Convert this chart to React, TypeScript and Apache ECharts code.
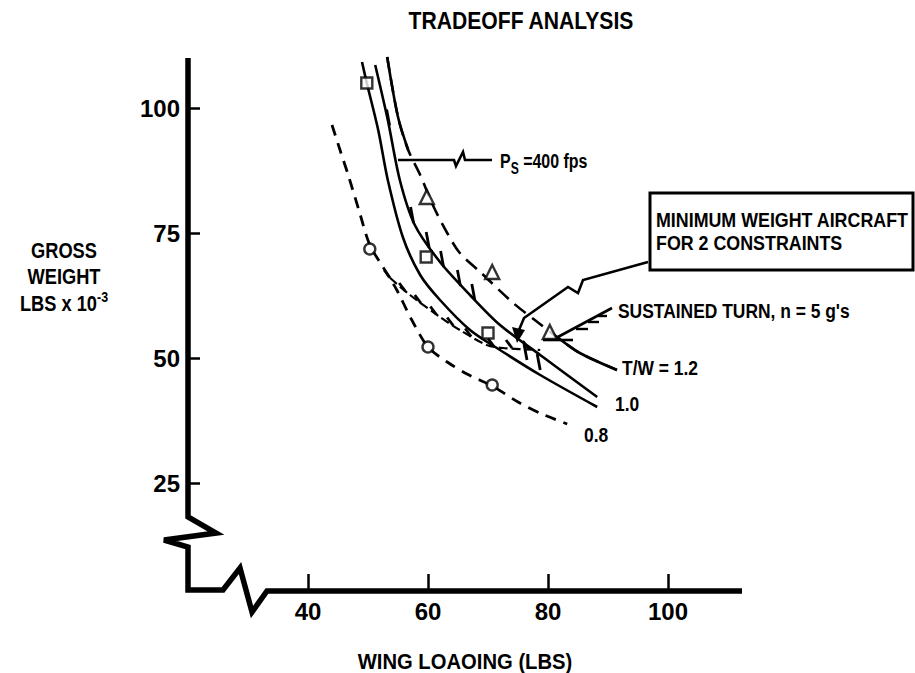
import React, { useEffect, useRef } from "react";
import * as echarts from "echarts";

const FONT = "'Liberation Sans', Arial, sans-serif";
const SQUEEZE = 0.83;

// axis ranges / ticks
const xMin = 20;
const xMax = 112;
const yMin = 3.6;
const yMax = 111;
const yAxisTop = 110;
const xTicks = [40, 60, 80, 100];
const yTicks = [25, 50, 75, 100];

// T/W = 0.8 (dashed, circles)
const tw08 = [
  [44, 96.6], [45.5, 91], [46.7, 86.6], [48.5, 79.5], [50.3, 72.6], [52.5, 68.2], [54.8, 63.6],
  [57.3, 57.6], [60, 52.2], [63.2, 49.2], [66.5, 46.8], [70.7, 44.4], [75, 41.2],
  [79, 38.8], [83.2, 36.8],
];
// T/W = 1.0 (solid)
const tw10 = [
  [49, 109.2], [49.8, 105], [51.7, 95.6], [53.3, 85.6], [55.8, 74.2], [58.7, 66.6],
  [62, 61.6], [67, 55.6], [72, 51.6], [78.7, 46.6], [88.2, 40.2],
];
// Ps = 400 fps constraint (solid, hatched)
const ps400 = [
  [51.2, 108.6], [53.3, 97.6], [55.3, 85.6], [57.8, 76.6], [62, 69.2], [67, 62.6],
  [72, 56.6], [78.7, 50.6], [88.2, 42.2],
];
// T/W = 1.2
const tw12 = [
  [53.2, 110.2], [55, 98.2], [56.7, 91.6], [58.7, 86.6], [60.8, 80.6], [63.2, 75],
  [65.3, 71], [68.7, 67.2], [74.2, 61], [77.8, 57.6], [81.5, 54.2], [85.3, 51], [91.5, 47.6],
];
// Sustained turn n = 5 g's constraint
const turn5g = [
  [53.7, 66], [57, 62.6], [62, 58.2], [65.3, 55.6], [69.8, 52.6], [72.5, 52], [78.7, 51.6],
];
// design point symbols
const circlePts = [[50.3, 71.8], [60, 52.2], [70.7, 44.6]];
const squarePts = [[49.8, 105], [59.7, 70.2], [70, 55]];
const trianglePts = [[59.8, 82.2], [70.7, 67.2], [80.3, 55.2]];
// hatch marks
const psHatch = [[53.6, 96.5], [57.6, 77], [60.2, 72], [62.6, 68.2], [65.4, 64.4], [67.8, 61.6], [76.5, 49.6], [78.7, 47.6]];
const turnHatch = [[53.7, 66], [56.2, 63.4], [58.8, 61], [61.4, 58.7], [64.2, 56.5], [67.2, 54.3], [71, 52.3], [74, 52], [76.8, 51.8]];

const solid = { color: "#000", width: 2.6, type: "solid" as const };

export default function App() {
  const ref = useRef<HTMLDivElement>(null);
  useEffect(() => {
    const el = ref.current;
    if (!el) return;
    const chart = echarts.init(el, null, { renderer: "svg" });
    const hatchRender = (dx: number, dy: number) => (params: any, api: any) => {
      const p = api.coord([api.value(0), api.value(1)]);
      return {
        type: "line",
        shape: { x1: p[0], y1: p[1], x2: p[0] + dx, y2: p[1] + dy },
        style: { stroke: "#000", lineWidth: 2.8 },
      };
    };
    const marker = (name: string, data: number[][], symbol: string, size: number) => ({
      name,
      type: "scatter",
      data,
      symbol,
      symbolSize: size,
      itemStyle: { color: "#fff", borderColor: "#000", borderWidth: 2.4 },
      z: 10,
      silent: true,
    });
    const option: any = {
      animation: false,
      backgroundColor: "#fff",
      grid: { left: 188, top: 53, width: (xMax - xMin) * 6, height: (yMax - yMin) * 5, containLabel: false },
      xAxis: {
        type: "value",
        min: xMin,
        max: xMax,
        axisLine: { show: false },
        splitLine: { show: false },
        axisTick: { show: true, inside: true, length: 16, lineStyle: { color: "#000", width: 2.5 }, customValues: xTicks },
        axisLabel: {
          customValues: xTicks,
          margin: 9,
          color: "#000",
          fontSize: 24,
          fontWeight: "bold",
          fontFamily: FONT,
        },
      },
      yAxis: {
        type: "value",
        min: yMin,
        max: yMax,
        axisLine: { show: false },
        splitLine: { show: false },
        axisTick: { show: true, inside: true, length: 12, lineStyle: { color: "#000", width: 2.5 }, customValues: yTicks },
        axisLabel: {
          customValues: yTicks,
          margin: 8,
          color: "#000",
          fontSize: 24,
          fontWeight: "bold",
          fontFamily: FONT,
        },
      },
      series: [
        {
          name: "T/W = 0.8",
          type: "line",
          data: tw08,
          smooth: 0.3,
          showSymbol: false,
          lineStyle: { color: "#000", width: 2.8, type: [11, 8] },
        },
        { name: "T/W = 1.0", type: "line", data: tw10, smooth: 0.3, showSymbol: false, lineStyle: solid },
        { name: "Ps = 400 fps", type: "line", data: ps400, smooth: 0.3, showSymbol: false, lineStyle: solid },
        {
          name: "T/W = 1.2 (dashed)",
          type: "line",
          data: tw12,
          smooth: 0.3,
          showSymbol: false,
          lineStyle: { color: "#000", width: 2.6, type: [14, 8] },
        },
        { name: "T/W = 1.2 top", type: "line", data: tw12.slice(0, 3), smooth: 0.3, showSymbol: false, lineStyle: solid },
        { name: "T/W = 1.2 end", type: "line", data: tw12.slice(-3), smooth: 0.3, showSymbol: false, lineStyle: solid },
        {
          name: "Sustained turn",
          type: "line",
          data: turn5g,
          smooth: 0.3,
          showSymbol: false,
          lineStyle: { color: "#000", width: 2.2, type: [9, 4] },
        },
        { name: "Ps hatch", type: "custom", data: psHatch, renderItem: hatchRender(-3, -16), silent: true, z: 4 },
        { name: "Turn hatch", type: "custom", data: turnHatch, renderItem: hatchRender(-6, -8), silent: true, z: 4 },
        marker("circles", circlePts, "circle", 11),
        marker("squares", squarePts, "rect", 11),
        marker("triangles", trianglePts, "triangle", 14),
      ],
    };
    chart.setOption(option);

    const o = chart.convertToPixel({ gridIndex: 0 } as any, [xMin, yMin]) as number[];
    const t = chart.convertToPixel({ gridIndex: 0 } as any, [xMin, yAxisTop]) as number[];
    const r = chart.convertToPixel({ gridIndex: 0 } as any, [xMax, yMin]) as number[];
    const ox = o[0];
    const oy = o[1];
    const txt = (text: string, x: number, y: number, size: number, align = "left", extra: any = {}, sx = SQUEEZE) => ({
      type: "text",
      x,
      y,
      scaleX: sx,
      style: {
        text,
        fontSize: size,
        fontWeight: "bold",
        fontFamily: FONT,
        fill: "#000",
        align,
        verticalAlign: "middle",
        ...extra,
      },
      z: 20,
    });
    const pl = (points: number[][], w = 2.3) => ({
      type: "polyline",
      shape: { points },
      style: { stroke: "#000", lineWidth: w, fill: null, lineJoin: "miter" },
      z: 20,
    });
    chart.setOption({
      graphic: [
        // axes with breaks
        pl(
          [
            [ox, t[1]],
            [ox, oy - 73],
            [ox + 28, oy - 57],
            [ox - 24, oy - 50],
            [ox, oy - 43],
            [ox, oy],
            [ox + 35, oy],
            [ox + 52, oy - 22],
            [ox + 64, oy + 22],
            [ox + 79, oy + 1],
            [r[0] + 2, oy + 1],
          ],
          5.5
        ),
        txt("TRADEOFF ANALYSIS", 521, 21, 24, "center", {}, 0.88),
        txt("GROSS", 64, 250, 22, "center"),
        txt("WEIGHT", 64, 276, 22, "center"),
        txt("LBS x 10{sup|-3}", 64, 303, 22, "center", {
          rich: { sup: { fontSize: 15, fontWeight: "bold", fontFamily: FONT, padding: [0, 0, 12, 0] } },
        }),
        txt("WING LOAOING (LBS)", 465, 661, 22, "center", {}, 0.92),
        // Ps label & leader
        txt("P{s|S} =400 fps", 500, 161, 21, "left", {
          rich: { s: { fontSize: 16, fontWeight: "bold", fontFamily: FONT, padding: [14, 0, 0, 0] } },
        }, 0.76),
        pl([[492, 160], [465, 160], [463, 152], [456, 166], [454, 160], [398, 160]], 2.6),
        // Minimum weight box
        {
          type: "rect",
          shape: { x: 650, y: 193, width: 263, height: 77 },
          style: { stroke: "#000", lineWidth: 3, fill: null },
          z: 20,
        },
        txt("MINIMUM WEIGHT AIRCRAFT", 656, 219, 21, "left", {}, 0.85),
        txt("FOR 2 CONSTRAINTS", 656, 242, 21, "left", {}, 0.85),
        pl([[648, 262], [583, 280], [578, 293], [568, 287], [524, 318], [519, 330]], 2.6),
        {
          type: "polygon",
          shape: { points: [[512, 327], [525, 330], [517, 343]] },
          style: { fill: "#000" },
          z: 20,
        },
        // Sustained turn label & leader
        txt("SUSTAINED TURN, n = 5 g's", 618, 311, 21),
        pl([[612, 308], [556, 338]], 2.6),
        pl([[543, 340], [573, 340]], 2.6),
        pl([[576, 329], [588, 329]], 2.4),
        pl([[588, 322], [599, 322]], 2.4),
        pl([[598, 316], [607, 316]], 2.4),
        // curve labels
        txt("T/W = 1.2", 622, 368, 21),
        txt("1.0", 615, 404, 21),
        txt("0.8", 584, 435, 21),
      ],
    });
    return () => chart.dispose();
  }, []);
  return (
    <div
      ref={ref}
      style={{ position: "fixed", left: 0, top: 0, width: 915, height: 673, background: "#fff" }}
    />
  );
}
